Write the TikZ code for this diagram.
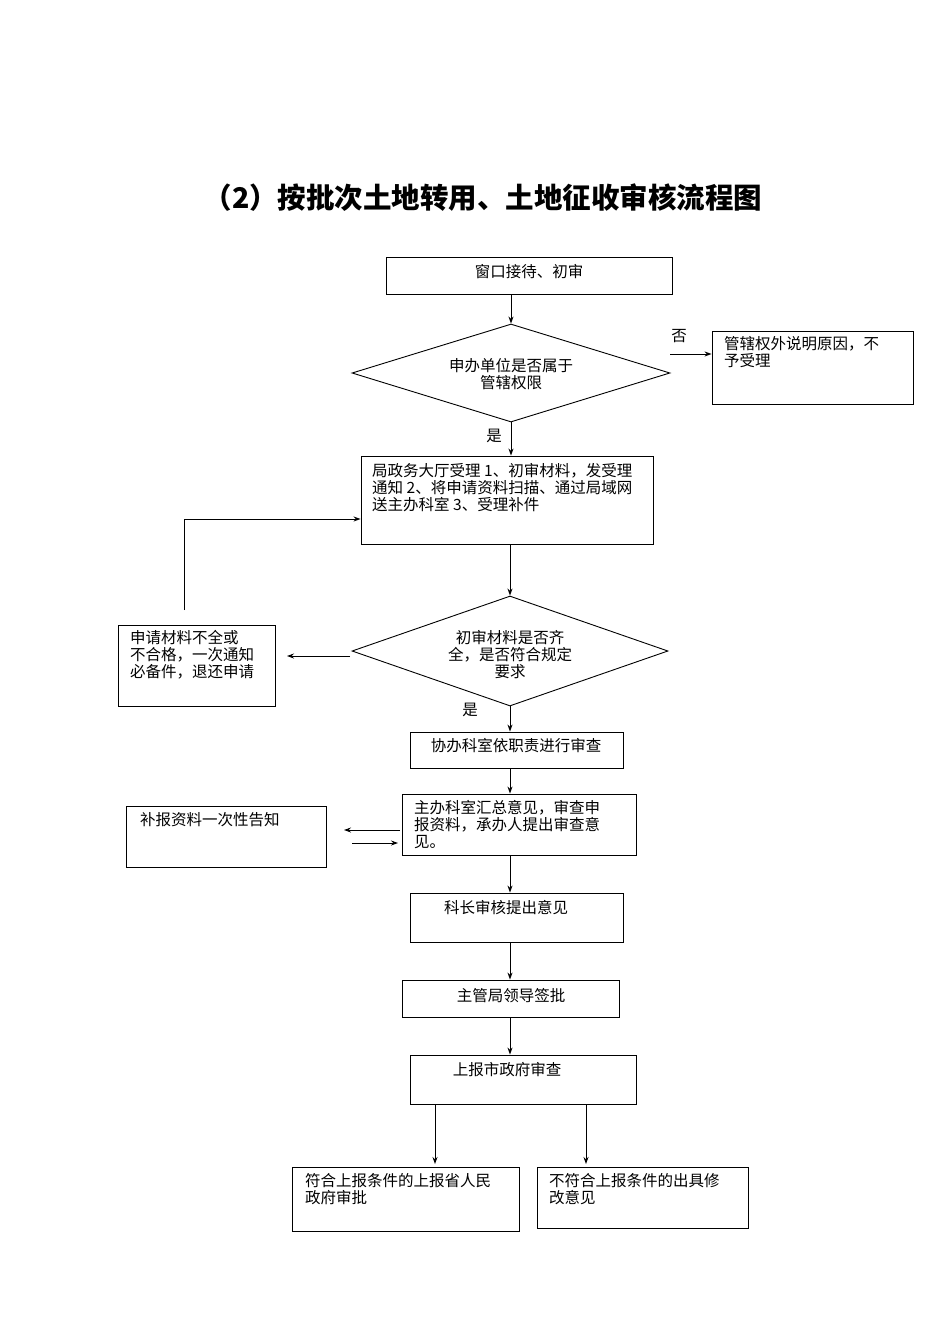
\documentclass[tikz,border=0pt]{standalone}
\usepackage{fontspec}
\setmainfont{Noto Sans CJK SC}
\usetikzlibrary{shapes.geometric,arrows.meta}
\begin{document}
\begin{tikzpicture}[x=1pt,y=-1pt,
 box/.style={draw,line width=0.9pt,inner sep=0pt},
 dia/.style={draw,diamond,line width=0.9pt,inner sep=0pt},
 txt/.style={font=\fontsize{15.5}{17}\selectfont,inner sep=0pt,align=left},
 arr/.style={-{Stealth[length=7pt,width=5pt]},line width=0.9pt}]
\useasboundingbox (0,0) rectangle (950,1344);
\node[font=\fontsize{28.5}{32}\selectfont\bfseries] (title) at (483,198) {（2）按批次土地转用、土地征收审核流程图};
\node[box,minimum width=286,minimum height=37] (b1) at (529,275.5) {};
\node[txt] at (529,272) {窗口接待、初审};
\node[dia,minimum width=318,minimum height=98] (d1) at (511,373) {};
\node[txt,align=center] at (511,374) {申办单位是否属于\\管辖权限};
\node[box,minimum width=201,minimum height=73] (b2) at (812.5,367.5) {};
\node[txt,anchor=north west] at (724,336) {管辖权外说明原因，不\\予受理};
\node[txt] (no) at (679,336) {否};
\node[txt] (yes1) at (494,436) {是};
\node[box,minimum width=292,minimum height=88] (b3) at (507,500) {};
\node[txt,anchor=north west] at (372,463) {局政务大厅受理 1、初审材料，发受理\\通知 2、将申请资料扫描、通过局域网\\送主办科室 3、受理补件};
\node[dia,minimum width=316,minimum height=110] (d2) at (510,651) {};
\node[txt,align=center] at (510,655) {初审材料是否齐\\全，是否符合规定\\要求};
\node[box,minimum width=157,minimum height=81] (b4) at (196.5,665.5) {};
\node[txt,anchor=north west] at (130,630) {申请材料不全或\\不合格，一次通知\\必备件，退还申请};
\node[txt] (yes2) at (470,710) {是};
\node[box,minimum width=213,minimum height=36] (b5) at (516.5,750) {};
\node[txt] at (516,746) {协办科室依职责进行审查};
\node[box,minimum width=234,minimum height=61] (b6) at (519,824.5) {};
\node[txt,anchor=north west] at (414,800) {主办科室汇总意见，审查申\\报资料，承办人提出审查意\\见。};
\node[box,minimum width=200,minimum height=61] (b7) at (226,836.5) {};
\node[txt,anchor=north west] at (140,812) {补报资料一次性告知};
\node[box,minimum width=213,minimum height=49] (b8) at (516.5,917.5) {};
\node[txt] at (506,908) {科长审核提出意见};
\node[box,minimum width=217,minimum height=37] (b9) at (510.5,998.5) {};
\node[txt] at (511,996) {主管局领导签批};
\node[box,minimum width=226,minimum height=49] (b10) at (523,1079.5) {};
\node[txt] at (507,1070) {上报市政府审查};
\node[box,minimum width=227,minimum height=64] (b11) at (405.5,1199) {};
\node[txt,anchor=north west] at (305,1173) {符合上报条件的上报省人民\\政府审批};
\node[box,minimum width=211,minimum height=61] (b12) at (642.5,1197.5) {};
\node[txt,anchor=north west] at (549,1173) {不符合上报条件的出具修\\改意见};
\coordinate (c1) at (184,610);
\coordinate (c2) at (184,519);
\draw[arr] (b1.south -| d1) -- (d1.north);
\draw[arr] (670,354) -- (b2.west |- 0,354);
\draw[arr] (d1.south) -- (b3.north -| d1);
\draw[arr] (b3.south -| d2) -- (d2.north);
\draw[arr] (c1) -- (c2) -- (b3.west |- c2);
\draw[arr] (350,656) -- (287,656);
\draw[arr] (d2.south) -- (b5.north -| d2);
\draw[arr] (b5.south -| d2) -- (b6.north -| d2);
\draw[arr] (400,830) -- (344,830);
\draw[arr] (352,843) -- (398,843);
\draw[arr] (b6.south -| d2) -- (b8.north -| d2);
\draw[arr] (b8.south -| d2) -- (b9.north -| d2);
\draw[arr] (b9.south -| d2) -- (b10.north -| d2);
\draw[arr] (435,1104) -- (435,1164);
\draw[arr] (586,1104) -- (586,1164);
\end{tikzpicture}
\end{document}
